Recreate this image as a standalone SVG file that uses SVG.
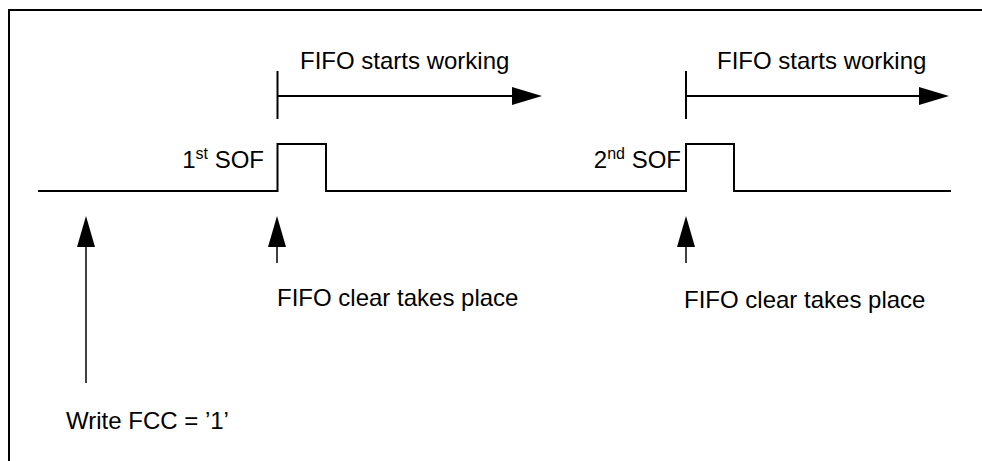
<svg xmlns="http://www.w3.org/2000/svg" width="982" height="461" viewBox="0 0 982 461">
<style>
.t{font-family:"Liberation Sans",Arial,sans-serif;font-size:24px;fill:#000}
.sup{font-size:16px}
.ln{stroke:#000;stroke-width:2;fill:none}
.thin{stroke:#000;stroke-width:1.5;fill:none}
</style>
<rect x="0" y="0" width="982" height="461" fill="#fff"/>
<path class="ln" d="M9,461 V10 H982"/>
<g id="signal">
<path class="ln" d="M38,191 H277.5 V144 H326 V191 H686 V144 H734 V191 H951"/>
</g>
<g id="sof1">
<text class="t" x="264" y="168" text-anchor="end">1<tspan class="sup" dy="-9">st</tspan><tspan dy="9"> SOF</tspan></text>
</g>
<g id="sof2">
<text class="t" x="681" y="168" text-anchor="end">2<tspan class="sup" dy="-9">nd</tspan><tspan dy="9"> SOF</tspan></text>
</g>
<g id="work1">
<text class="t" x="300" y="69">FIFO starts working</text>
</g>
<g id="work2">
<text class="t" x="717" y="69">FIFO starts working</text>
</g>
<g id="clear1">
<text class="t" x="277" y="306">FIFO clear takes place</text>
</g>
<g id="clear2">
<text class="t" x="684" y="308">FIFO clear takes place</text>
</g>
<g id="write">
<text class="t" x="66" y="429">Write FCC = ’1’</text>
</g>
<g id="connectors">
<line class="ln" x1="277.5" y1="71" x2="277.5" y2="119"/>
<line class="ln" x1="278" y1="96" x2="514" y2="96"/>
<polygon points="512,87 542,96 512,105" fill="#000"/>
<line class="ln" x1="686" y1="71" x2="686" y2="119"/>
<line class="ln" x1="687" y1="96" x2="921" y2="96"/>
<polygon points="919,87 949,96 919,105" fill="#000"/>
<line class="thin" x1="86" y1="245" x2="86" y2="383"/>
<polygon points="77,247 86,216 95,247" fill="#000"/>
<line class="thin" x1="277" y1="245" x2="277" y2="263"/>
<polygon points="268,247 277,216 286,247" fill="#000"/>
<line class="thin" x1="686" y1="245" x2="686" y2="263"/>
<polygon points="677,247 686,216 695,247" fill="#000"/>
</g>
</svg>
